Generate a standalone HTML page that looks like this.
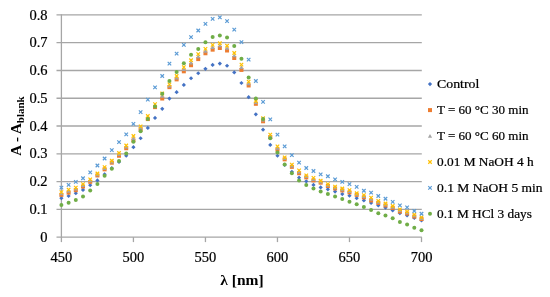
<!DOCTYPE html>
<html><head><meta charset="utf-8"><style>
html,body{margin:0;padding:0;background:#fff;}
body{width:550px;height:297px;overflow:hidden;}
svg{display:block;}
text{filter:grayscale(1);stroke:#000;stroke-width:0.22px;}
svg{font-family:"Liberation Serif",serif;font-size:14.5px;}
</style></head><body>
<svg width="550" height="297" viewBox="0 0 550 297">
<rect width="550" height="297" fill="#fff"/>
<line x1="56.5" y1="237.10" x2="421.80" y2="237.10" stroke="#a6a6a6" stroke-width="1.3"/>
<line x1="56.5" y1="209.33" x2="421.80" y2="209.33" stroke="#a6a6a6" stroke-width="1.3"/>
<line x1="56.5" y1="181.56" x2="421.80" y2="181.56" stroke="#a6a6a6" stroke-width="1.3"/>
<line x1="56.5" y1="153.79" x2="421.80" y2="153.79" stroke="#a6a6a6" stroke-width="1.3"/>
<line x1="56.5" y1="126.02" x2="421.80" y2="126.02" stroke="#a6a6a6" stroke-width="1.3"/>
<line x1="56.5" y1="98.26" x2="421.80" y2="98.26" stroke="#a6a6a6" stroke-width="1.3"/>
<line x1="56.5" y1="70.49" x2="421.80" y2="70.49" stroke="#a6a6a6" stroke-width="1.3"/>
<line x1="56.5" y1="42.72" x2="421.80" y2="42.72" stroke="#a6a6a6" stroke-width="1.3"/>
<line x1="56.5" y1="14.95" x2="421.80" y2="14.95" stroke="#a6a6a6" stroke-width="1.3"/>
<line x1="61.40" y1="14.35" x2="61.40" y2="237.70" stroke="#a6a6a6" stroke-width="1.3"/>
<line x1="61.40" y1="237.10" x2="61.40" y2="242.10" stroke="#a6a6a6" stroke-width="1.3"/>
<line x1="133.42" y1="237.10" x2="133.42" y2="242.10" stroke="#a6a6a6" stroke-width="1.3"/>
<line x1="205.44" y1="237.10" x2="205.44" y2="242.10" stroke="#a6a6a6" stroke-width="1.3"/>
<line x1="277.46" y1="237.10" x2="277.46" y2="242.10" stroke="#a6a6a6" stroke-width="1.3"/>
<line x1="349.48" y1="237.10" x2="349.48" y2="242.10" stroke="#a6a6a6" stroke-width="1.3"/>
<line x1="421.50" y1="237.10" x2="421.50" y2="242.10" stroke="#a6a6a6" stroke-width="1.3"/>
<path d="M61.40 196.12L63.50 198.22L61.40 200.32L59.30 198.22Z" fill="#4472c4"/>
<path d="M68.60 193.90L70.70 196.00L68.60 198.10L66.50 196.00Z" fill="#4472c4"/>
<path d="M75.80 191.13L77.90 193.23L75.80 195.33L73.70 193.23Z" fill="#4472c4"/>
<path d="M83.01 187.79L85.11 189.89L83.01 191.99L80.91 189.89Z" fill="#4472c4"/>
<path d="M90.21 183.07L92.31 185.17L90.21 187.27L88.11 185.17Z" fill="#4472c4"/>
<path d="M97.41 178.35L99.51 180.45L97.41 182.55L95.31 180.45Z" fill="#4472c4"/>
<path d="M104.61 172.24L106.71 174.34L104.61 176.44L102.51 174.34Z" fill="#4472c4"/>
<path d="M111.81 166.04L113.91 168.14L111.81 170.24L109.71 168.14Z" fill="#4472c4"/>
<path d="M119.02 159.84L121.12 161.94L119.02 164.04L116.92 161.94Z" fill="#4472c4"/>
<path d="M126.22 153.64L128.32 155.74L126.22 157.84L124.12 155.74Z" fill="#4472c4"/>
<path d="M133.42 145.03L135.52 147.13L133.42 149.23L131.32 147.13Z" fill="#4472c4"/>
<path d="M140.62 136.14L142.72 138.24L140.62 140.34L138.52 138.24Z" fill="#4472c4"/>
<path d="M147.82 125.87L149.92 127.97L147.82 130.07L145.72 127.97Z" fill="#4472c4"/>
<path d="M155.03 115.87L157.13 117.97L155.03 120.07L152.93 117.97Z" fill="#4472c4"/>
<path d="M162.23 106.71L164.33 108.81L162.23 110.91L160.13 108.81Z" fill="#4472c4"/>
<path d="M169.43 96.43L171.53 98.53L169.43 100.63L167.33 98.53Z" fill="#4472c4"/>
<path d="M176.63 90.05L178.73 92.15L176.63 94.25L174.53 92.15Z" fill="#4472c4"/>
<path d="M183.83 82.83L185.93 84.93L183.83 87.03L181.73 84.93Z" fill="#4472c4"/>
<path d="M191.04 76.16L193.14 78.26L191.04 80.36L188.94 78.26Z" fill="#4472c4"/>
<path d="M198.24 71.16L200.34 73.26L198.24 75.36L196.14 73.26Z" fill="#4472c4"/>
<path d="M205.44 66.72L207.54 68.82L205.44 70.92L203.34 68.82Z" fill="#4472c4"/>
<path d="M212.64 62.83L214.74 64.93L212.64 67.03L210.54 64.93Z" fill="#4472c4"/>
<path d="M219.84 61.45L221.94 63.55L219.84 65.65L217.74 63.55Z" fill="#4472c4"/>
<path d="M227.05 63.67L229.15 65.77L227.05 67.87L224.95 65.77Z" fill="#4472c4"/>
<path d="M234.25 70.33L236.35 72.43L234.25 74.53L232.15 72.43Z" fill="#4472c4"/>
<path d="M241.45 80.88L243.55 82.98L241.45 85.08L239.35 82.98Z" fill="#4472c4"/>
<path d="M248.65 95.05L250.75 97.15L248.65 99.25L246.55 97.15Z" fill="#4472c4"/>
<path d="M255.85 112.26L257.95 114.36L255.85 116.46L253.75 114.36Z" fill="#4472c4"/>
<path d="M263.06 127.53L265.16 129.63L263.06 131.73L260.96 129.63Z" fill="#4472c4"/>
<path d="M270.26 142.81L272.36 144.91L270.26 147.01L268.16 144.91Z" fill="#4472c4"/>
<path d="M277.46 153.64L279.56 155.74L277.46 157.84L275.36 155.74Z" fill="#4472c4"/>
<path d="M284.66 162.80L286.76 164.90L284.66 167.00L282.56 164.90Z" fill="#4472c4"/>
<path d="M291.86 169.74L293.96 171.84L291.86 173.94L289.76 171.84Z" fill="#4472c4"/>
<path d="M299.07 175.57L301.17 177.67L299.07 179.77L296.97 177.67Z" fill="#4472c4"/>
<path d="M306.27 179.18L308.37 181.28L306.27 183.38L304.17 181.28Z" fill="#4472c4"/>
<path d="M313.47 182.79L315.57 184.89L313.47 186.99L311.37 184.89Z" fill="#4472c4"/>
<path d="M320.67 185.29L322.77 187.39L320.67 189.49L318.57 187.39Z" fill="#4472c4"/>
<path d="M327.87 187.24L329.97 189.34L327.87 191.44L325.77 189.34Z" fill="#4472c4"/>
<path d="M335.08 189.46L337.18 191.56L335.08 193.66L332.98 191.56Z" fill="#4472c4"/>
<path d="M342.28 191.96L344.38 194.06L342.28 196.16L340.18 194.06Z" fill="#4472c4"/>
<path d="M349.48 193.62L351.58 195.72L349.48 197.82L347.38 195.72Z" fill="#4472c4"/>
<path d="M356.68 196.12L358.78 198.22L356.68 200.32L354.58 198.22Z" fill="#4472c4"/>
<path d="M363.88 198.35L365.98 200.45L363.88 202.55L361.78 200.45Z" fill="#4472c4"/>
<path d="M371.09 200.84L373.19 202.94L371.09 205.04L368.99 202.94Z" fill="#4472c4"/>
<path d="M378.29 203.34L380.39 205.44L378.29 207.54L376.19 205.44Z" fill="#4472c4"/>
<path d="M385.49 205.57L387.59 207.67L385.49 209.77L383.39 207.67Z" fill="#4472c4"/>
<path d="M392.69 208.34L394.79 210.44L392.69 212.54L390.59 210.44Z" fill="#4472c4"/>
<path d="M399.89 211.12L401.99 213.22L399.89 215.32L397.79 213.22Z" fill="#4472c4"/>
<path d="M407.10 213.34L409.20 215.44L407.10 217.54L405.00 215.44Z" fill="#4472c4"/>
<path d="M414.30 215.84L416.40 217.94L414.30 220.04L412.20 217.94Z" fill="#4472c4"/>
<path d="M421.50 218.34L423.60 220.44L421.50 222.54L419.40 220.44Z" fill="#4472c4"/>
<rect x="59.40" y="192.89" width="4.00" height="4.00" fill="#ed7d31"/>
<rect x="66.60" y="190.67" width="4.00" height="4.00" fill="#ed7d31"/>
<rect x="73.80" y="188.17" width="4.00" height="4.00" fill="#ed7d31"/>
<rect x="81.01" y="184.56" width="4.00" height="4.00" fill="#ed7d31"/>
<rect x="88.21" y="179.84" width="4.00" height="4.00" fill="#ed7d31"/>
<rect x="95.41" y="173.45" width="4.00" height="4.00" fill="#ed7d31"/>
<rect x="102.61" y="167.34" width="4.00" height="4.00" fill="#ed7d31"/>
<rect x="109.81" y="160.68" width="4.00" height="4.00" fill="#ed7d31"/>
<rect x="117.02" y="153.74" width="4.00" height="4.00" fill="#ed7d31"/>
<rect x="124.22" y="146.24" width="4.00" height="4.00" fill="#ed7d31"/>
<rect x="131.42" y="138.46" width="4.00" height="4.00" fill="#ed7d31"/>
<rect x="138.62" y="127.36" width="4.00" height="4.00" fill="#ed7d31"/>
<rect x="145.82" y="117.08" width="4.00" height="4.00" fill="#ed7d31"/>
<rect x="153.03" y="105.14" width="4.00" height="4.00" fill="#ed7d31"/>
<rect x="160.23" y="96.53" width="4.00" height="4.00" fill="#ed7d31"/>
<rect x="167.43" y="85.15" width="4.00" height="4.00" fill="#ed7d31"/>
<rect x="174.63" y="77.37" width="4.00" height="4.00" fill="#ed7d31"/>
<rect x="181.83" y="69.32" width="4.00" height="4.00" fill="#ed7d31"/>
<rect x="189.04" y="63.21" width="4.00" height="4.00" fill="#ed7d31"/>
<rect x="196.24" y="57.10" width="4.00" height="4.00" fill="#ed7d31"/>
<rect x="203.44" y="51.27" width="4.00" height="4.00" fill="#ed7d31"/>
<rect x="210.64" y="47.66" width="4.00" height="4.00" fill="#ed7d31"/>
<rect x="217.84" y="45.99" width="4.00" height="4.00" fill="#ed7d31"/>
<rect x="225.05" y="48.49" width="4.00" height="4.00" fill="#ed7d31"/>
<rect x="232.25" y="55.99" width="4.00" height="4.00" fill="#ed7d31"/>
<rect x="239.45" y="67.93" width="4.00" height="4.00" fill="#ed7d31"/>
<rect x="246.65" y="83.48" width="4.00" height="4.00" fill="#ed7d31"/>
<rect x="253.85" y="101.81" width="4.00" height="4.00" fill="#ed7d31"/>
<rect x="261.06" y="119.30" width="4.00" height="4.00" fill="#ed7d31"/>
<rect x="268.26" y="135.13" width="4.00" height="4.00" fill="#ed7d31"/>
<rect x="275.46" y="147.63" width="4.00" height="4.00" fill="#ed7d31"/>
<rect x="282.66" y="157.35" width="4.00" height="4.00" fill="#ed7d31"/>
<rect x="289.86" y="164.85" width="4.00" height="4.00" fill="#ed7d31"/>
<rect x="297.07" y="171.23" width="4.00" height="4.00" fill="#ed7d31"/>
<rect x="304.27" y="175.40" width="4.00" height="4.00" fill="#ed7d31"/>
<rect x="311.47" y="178.45" width="4.00" height="4.00" fill="#ed7d31"/>
<rect x="318.67" y="180.67" width="4.00" height="4.00" fill="#ed7d31"/>
<rect x="325.87" y="184.01" width="4.00" height="4.00" fill="#ed7d31"/>
<rect x="333.08" y="186.50" width="4.00" height="4.00" fill="#ed7d31"/>
<rect x="340.28" y="188.45" width="4.00" height="4.00" fill="#ed7d31"/>
<rect x="347.48" y="190.39" width="4.00" height="4.00" fill="#ed7d31"/>
<rect x="354.68" y="192.89" width="4.00" height="4.00" fill="#ed7d31"/>
<rect x="361.88" y="195.39" width="4.00" height="4.00" fill="#ed7d31"/>
<rect x="369.09" y="198.45" width="4.00" height="4.00" fill="#ed7d31"/>
<rect x="376.29" y="200.94" width="4.00" height="4.00" fill="#ed7d31"/>
<rect x="383.49" y="203.44" width="4.00" height="4.00" fill="#ed7d31"/>
<rect x="390.69" y="205.94" width="4.00" height="4.00" fill="#ed7d31"/>
<rect x="397.89" y="209.55" width="4.00" height="4.00" fill="#ed7d31"/>
<rect x="405.10" y="211.50" width="4.00" height="4.00" fill="#ed7d31"/>
<rect x="412.30" y="214.55" width="4.00" height="4.00" fill="#ed7d31"/>
<rect x="419.50" y="217.05" width="4.00" height="4.00" fill="#ed7d31"/>
<path d="M61.40 191.40L63.50 195.18L59.30 195.18Z" fill="#a5a5a5"/>
<path d="M68.60 189.04L70.70 192.82L66.50 192.82Z" fill="#a5a5a5"/>
<path d="M75.80 186.82L77.90 190.60L73.70 190.60Z" fill="#a5a5a5"/>
<path d="M83.01 183.21L85.11 186.99L80.91 186.99Z" fill="#a5a5a5"/>
<path d="M90.21 178.49L92.31 182.27L88.11 182.27Z" fill="#a5a5a5"/>
<path d="M97.41 172.38L99.51 176.16L95.31 176.16Z" fill="#a5a5a5"/>
<path d="M104.61 166.13L106.71 169.91L102.51 169.91Z" fill="#a5a5a5"/>
<path d="M111.81 159.61L113.91 163.39L109.71 163.39Z" fill="#a5a5a5"/>
<path d="M119.02 152.25L121.12 156.03L116.92 156.03Z" fill="#a5a5a5"/>
<path d="M126.22 144.75L128.32 148.53L124.12 148.53Z" fill="#a5a5a5"/>
<path d="M133.42 136.14L135.52 139.92L131.32 139.92Z" fill="#a5a5a5"/>
<path d="M140.62 125.73L142.72 129.51L138.52 129.51Z" fill="#a5a5a5"/>
<path d="M147.82 115.46L149.92 119.24L145.72 119.24Z" fill="#a5a5a5"/>
<path d="M155.03 103.51L157.13 107.29L152.93 107.29Z" fill="#a5a5a5"/>
<path d="M162.23 93.93L164.33 97.71L160.13 97.71Z" fill="#a5a5a5"/>
<path d="M169.43 83.66L171.53 87.44L167.33 87.44Z" fill="#a5a5a5"/>
<path d="M176.63 75.61L178.73 79.39L174.53 79.39Z" fill="#a5a5a5"/>
<path d="M183.83 67.14L185.93 70.92L181.73 70.92Z" fill="#a5a5a5"/>
<path d="M191.04 60.61L193.14 64.39L188.94 64.39Z" fill="#a5a5a5"/>
<path d="M198.24 54.50L200.34 58.28L196.14 58.28Z" fill="#a5a5a5"/>
<path d="M205.44 48.95L207.54 52.73L203.34 52.73Z" fill="#a5a5a5"/>
<path d="M212.64 45.20L214.74 48.98L210.54 48.98Z" fill="#a5a5a5"/>
<path d="M219.84 43.53L221.94 47.31L217.74 47.31Z" fill="#a5a5a5"/>
<path d="M227.05 46.03L229.15 49.81L224.95 49.81Z" fill="#a5a5a5"/>
<path d="M234.25 53.39L236.35 57.17L232.15 57.17Z" fill="#a5a5a5"/>
<path d="M241.45 65.19L243.55 68.97L239.35 68.97Z" fill="#a5a5a5"/>
<path d="M248.65 81.44L250.75 85.22L246.55 85.22Z" fill="#a5a5a5"/>
<path d="M255.85 100.32L257.95 104.10L253.75 104.10Z" fill="#a5a5a5"/>
<path d="M263.06 117.68L265.16 121.46L260.96 121.46Z" fill="#a5a5a5"/>
<path d="M270.26 133.78L272.36 137.56L268.16 137.56Z" fill="#a5a5a5"/>
<path d="M277.46 145.86L279.56 149.64L275.36 149.64Z" fill="#a5a5a5"/>
<path d="M284.66 156.28L286.76 160.06L282.56 160.06Z" fill="#a5a5a5"/>
<path d="M291.86 163.63L293.96 167.41L289.76 167.41Z" fill="#a5a5a5"/>
<path d="M299.07 169.74L301.17 173.52L296.97 173.52Z" fill="#a5a5a5"/>
<path d="M306.27 174.33L308.37 178.11L304.17 178.11Z" fill="#a5a5a5"/>
<path d="M313.47 177.10L315.57 180.88L311.37 180.88Z" fill="#a5a5a5"/>
<path d="M320.67 179.60L322.77 183.38L318.57 183.38Z" fill="#a5a5a5"/>
<path d="M327.87 182.93L329.97 186.71L325.77 186.71Z" fill="#a5a5a5"/>
<path d="M335.08 185.43L337.18 189.21L332.98 189.21Z" fill="#a5a5a5"/>
<path d="M342.28 187.38L344.38 191.16L340.18 191.16Z" fill="#a5a5a5"/>
<path d="M349.48 189.18L351.58 192.96L347.38 192.96Z" fill="#a5a5a5"/>
<path d="M356.68 191.96L358.78 195.74L354.58 195.74Z" fill="#a5a5a5"/>
<path d="M363.88 194.18L365.98 197.96L361.78 197.96Z" fill="#a5a5a5"/>
<path d="M371.09 196.96L373.19 200.74L368.99 200.74Z" fill="#a5a5a5"/>
<path d="M378.29 199.87L380.39 203.65L376.19 203.65Z" fill="#a5a5a5"/>
<path d="M385.49 202.37L387.59 206.15L383.39 206.15Z" fill="#a5a5a5"/>
<path d="M392.69 204.87L394.79 208.65L390.59 208.65Z" fill="#a5a5a5"/>
<path d="M399.89 208.34L401.99 212.12L397.79 212.12Z" fill="#a5a5a5"/>
<path d="M407.10 210.42L409.20 214.20L405.00 214.20Z" fill="#a5a5a5"/>
<path d="M414.30 213.48L416.40 217.26L412.20 217.26Z" fill="#a5a5a5"/>
<path d="M421.50 216.12L423.60 219.90L419.40 219.90Z" fill="#a5a5a5"/>
<path d="M59.65 190.36L63.15 193.86M63.15 190.36L59.65 193.86" stroke="#ffc000" stroke-width="1.2" fill="none"/>
<path d="M66.85 187.87L70.35 191.37M70.35 187.87L66.85 191.37" stroke="#ffc000" stroke-width="1.2" fill="none"/>
<path d="M74.05 185.92L77.55 189.42M77.55 185.92L74.05 189.42" stroke="#ffc000" stroke-width="1.2" fill="none"/>
<path d="M81.26 182.31L84.76 185.81M84.76 182.31L81.26 185.81" stroke="#ffc000" stroke-width="1.2" fill="none"/>
<path d="M88.46 177.59L91.96 181.09M91.96 177.59L88.46 181.09" stroke="#ffc000" stroke-width="1.2" fill="none"/>
<path d="M95.66 171.76L99.16 175.26M99.16 171.76L95.66 175.26" stroke="#ffc000" stroke-width="1.2" fill="none"/>
<path d="M102.86 165.37L106.36 168.87M106.36 165.37L102.86 168.87" stroke="#ffc000" stroke-width="1.2" fill="none"/>
<path d="M110.06 158.99L113.56 162.49M113.56 158.99L110.06 162.49" stroke="#ffc000" stroke-width="1.2" fill="none"/>
<path d="M117.27 151.21L120.77 154.71M120.77 151.21L117.27 154.71" stroke="#ffc000" stroke-width="1.2" fill="none"/>
<path d="M124.47 143.71L127.97 147.21M127.97 143.71L124.47 147.21" stroke="#ffc000" stroke-width="1.2" fill="none"/>
<path d="M131.67 134.27L135.17 137.77M135.17 134.27L131.67 137.77" stroke="#ffc000" stroke-width="1.2" fill="none"/>
<path d="M138.87 124.55L142.37 128.05M142.37 124.55L138.87 128.05" stroke="#ffc000" stroke-width="1.2" fill="none"/>
<path d="M146.07 114.28L149.57 117.78M149.57 114.28L146.07 117.78" stroke="#ffc000" stroke-width="1.2" fill="none"/>
<path d="M153.28 102.34L156.78 105.84M156.78 102.34L153.28 105.84" stroke="#ffc000" stroke-width="1.2" fill="none"/>
<path d="M160.48 91.79L163.98 95.29M163.98 91.79L160.48 95.29" stroke="#ffc000" stroke-width="1.2" fill="none"/>
<path d="M167.68 82.62L171.18 86.12M171.18 82.62L167.68 86.12" stroke="#ffc000" stroke-width="1.2" fill="none"/>
<path d="M174.88 74.29L178.38 77.79M178.38 74.29L174.88 77.79" stroke="#ffc000" stroke-width="1.2" fill="none"/>
<path d="M182.08 65.41L185.58 68.91M185.58 65.41L182.08 68.91" stroke="#ffc000" stroke-width="1.2" fill="none"/>
<path d="M189.29 58.46L192.79 61.96M192.79 58.46L189.29 61.96" stroke="#ffc000" stroke-width="1.2" fill="none"/>
<path d="M196.49 52.35L199.99 55.85M199.99 52.35L196.49 55.85" stroke="#ffc000" stroke-width="1.2" fill="none"/>
<path d="M203.69 47.08L207.19 50.58M207.19 47.08L203.69 50.58" stroke="#ffc000" stroke-width="1.2" fill="none"/>
<path d="M210.89 43.19L214.39 46.69M214.39 43.19L210.89 46.69" stroke="#ffc000" stroke-width="1.2" fill="none"/>
<path d="M218.09 41.52L221.59 45.02M221.59 41.52L218.09 45.02" stroke="#ffc000" stroke-width="1.2" fill="none"/>
<path d="M225.30 44.02L228.80 47.52M228.80 44.02L225.30 47.52" stroke="#ffc000" stroke-width="1.2" fill="none"/>
<path d="M232.50 51.24L236.00 54.74M236.00 51.24L232.50 54.74" stroke="#ffc000" stroke-width="1.2" fill="none"/>
<path d="M239.70 62.91L243.20 66.41M243.20 62.91L239.70 66.41" stroke="#ffc000" stroke-width="1.2" fill="none"/>
<path d="M246.90 79.84L250.40 83.34M250.40 79.84L246.90 83.34" stroke="#ffc000" stroke-width="1.2" fill="none"/>
<path d="M254.10 99.28L257.60 102.78M257.60 99.28L254.10 102.78" stroke="#ffc000" stroke-width="1.2" fill="none"/>
<path d="M261.31 116.50L264.81 120.00M264.81 116.50L261.31 120.00" stroke="#ffc000" stroke-width="1.2" fill="none"/>
<path d="M268.51 132.88L272.01 136.38M272.01 132.88L268.51 136.38" stroke="#ffc000" stroke-width="1.2" fill="none"/>
<path d="M275.71 144.55L279.21 148.05M279.21 144.55L275.71 148.05" stroke="#ffc000" stroke-width="1.2" fill="none"/>
<path d="M282.91 155.65L286.41 159.15M286.41 155.65L282.91 159.15" stroke="#ffc000" stroke-width="1.2" fill="none"/>
<path d="M290.11 162.87L293.61 166.37M293.61 162.87L290.11 166.37" stroke="#ffc000" stroke-width="1.2" fill="none"/>
<path d="M297.32 168.70L300.82 172.20M300.82 168.70L297.32 172.20" stroke="#ffc000" stroke-width="1.2" fill="none"/>
<path d="M304.52 173.70L308.02 177.20M308.02 173.70L304.52 177.20" stroke="#ffc000" stroke-width="1.2" fill="none"/>
<path d="M311.72 176.20L315.22 179.70M315.22 176.20L311.72 179.70" stroke="#ffc000" stroke-width="1.2" fill="none"/>
<path d="M318.92 178.98L322.42 182.48M322.42 178.98L318.92 182.48" stroke="#ffc000" stroke-width="1.2" fill="none"/>
<path d="M326.12 182.31L329.62 185.81M329.62 182.31L326.12 185.81" stroke="#ffc000" stroke-width="1.2" fill="none"/>
<path d="M333.33 184.81L336.83 188.31M336.83 184.81L333.33 188.31" stroke="#ffc000" stroke-width="1.2" fill="none"/>
<path d="M340.53 186.75L344.03 190.25M344.03 186.75L340.53 190.25" stroke="#ffc000" stroke-width="1.2" fill="none"/>
<path d="M347.73 188.42L351.23 191.92M351.23 188.42L347.73 191.92" stroke="#ffc000" stroke-width="1.2" fill="none"/>
<path d="M354.93 191.48L358.43 194.98M358.43 191.48L354.93 194.98" stroke="#ffc000" stroke-width="1.2" fill="none"/>
<path d="M362.13 193.42L365.63 196.92M365.63 193.42L362.13 196.92" stroke="#ffc000" stroke-width="1.2" fill="none"/>
<path d="M369.34 195.92L372.84 199.42M372.84 195.92L369.34 199.42" stroke="#ffc000" stroke-width="1.2" fill="none"/>
<path d="M376.54 199.25L380.04 202.75M380.04 199.25L376.54 202.75" stroke="#ffc000" stroke-width="1.2" fill="none"/>
<path d="M383.74 201.75L387.24 205.25M387.24 201.75L383.74 205.25" stroke="#ffc000" stroke-width="1.2" fill="none"/>
<path d="M390.94 204.25L394.44 207.75M394.44 204.25L390.94 207.75" stroke="#ffc000" stroke-width="1.2" fill="none"/>
<path d="M398.14 207.58L401.64 211.08M401.64 207.58L398.14 211.08" stroke="#ffc000" stroke-width="1.2" fill="none"/>
<path d="M405.35 209.80L408.85 213.30M408.85 209.80L405.35 213.30" stroke="#ffc000" stroke-width="1.2" fill="none"/>
<path d="M412.55 212.86L416.05 216.36M416.05 212.86L412.55 216.36" stroke="#ffc000" stroke-width="1.2" fill="none"/>
<path d="M419.75 215.63L423.25 219.13M423.25 215.63L419.75 219.13" stroke="#ffc000" stroke-width="1.2" fill="none"/>
<path d="M59.65 185.92L63.15 189.42M63.15 185.92L59.65 189.42" stroke="#5b9bd5" stroke-width="1.2" fill="none"/>
<path d="M66.85 183.14L70.35 186.64M70.35 183.14L66.85 186.64" stroke="#5b9bd5" stroke-width="1.2" fill="none"/>
<path d="M74.05 180.09L77.55 183.59M77.55 180.09L74.05 183.59" stroke="#5b9bd5" stroke-width="1.2" fill="none"/>
<path d="M81.26 176.48L84.76 179.98M84.76 176.48L81.26 179.98" stroke="#5b9bd5" stroke-width="1.2" fill="none"/>
<path d="M88.46 170.65L91.96 174.15M91.96 170.65L88.46 174.15" stroke="#5b9bd5" stroke-width="1.2" fill="none"/>
<path d="M95.66 163.71L99.16 167.21M99.16 163.71L95.66 167.21" stroke="#5b9bd5" stroke-width="1.2" fill="none"/>
<path d="M102.86 156.76L106.36 160.26M106.36 156.76L102.86 160.26" stroke="#5b9bd5" stroke-width="1.2" fill="none"/>
<path d="M110.06 148.43L113.56 151.93M113.56 148.43L110.06 151.93" stroke="#5b9bd5" stroke-width="1.2" fill="none"/>
<path d="M117.27 140.38L120.77 143.88M120.77 140.38L117.27 143.88" stroke="#5b9bd5" stroke-width="1.2" fill="none"/>
<path d="M124.47 132.61L127.97 136.11M127.97 132.61L124.47 136.11" stroke="#5b9bd5" stroke-width="1.2" fill="none"/>
<path d="M131.67 122.05L135.17 125.55M135.17 122.05L131.67 125.55" stroke="#5b9bd5" stroke-width="1.2" fill="none"/>
<path d="M138.87 110.39L142.37 113.89M142.37 110.39L138.87 113.89" stroke="#5b9bd5" stroke-width="1.2" fill="none"/>
<path d="M146.07 97.89L149.57 101.39M149.57 97.89L146.07 101.39" stroke="#5b9bd5" stroke-width="1.2" fill="none"/>
<path d="M153.28 85.68L156.78 89.18M156.78 85.68L153.28 89.18" stroke="#5b9bd5" stroke-width="1.2" fill="none"/>
<path d="M160.48 74.29L163.98 77.79M163.98 74.29L160.48 77.79" stroke="#5b9bd5" stroke-width="1.2" fill="none"/>
<path d="M167.68 61.80L171.18 65.30M171.18 61.80L167.68 65.30" stroke="#5b9bd5" stroke-width="1.2" fill="none"/>
<path d="M174.88 51.80L178.38 55.30M178.38 51.80L174.88 55.30" stroke="#5b9bd5" stroke-width="1.2" fill="none"/>
<path d="M182.08 43.19L185.58 46.69M185.58 43.19L182.08 46.69" stroke="#5b9bd5" stroke-width="1.2" fill="none"/>
<path d="M189.29 35.41L192.79 38.91M192.79 35.41L189.29 38.91" stroke="#5b9bd5" stroke-width="1.2" fill="none"/>
<path d="M196.49 28.75L199.99 32.25M199.99 28.75L196.49 32.25" stroke="#5b9bd5" stroke-width="1.2" fill="none"/>
<path d="M203.69 22.09L207.19 25.59M207.19 22.09L203.69 25.59" stroke="#5b9bd5" stroke-width="1.2" fill="none"/>
<path d="M210.89 17.09L214.39 20.59M214.39 17.09L210.89 20.59" stroke="#5b9bd5" stroke-width="1.2" fill="none"/>
<path d="M218.09 15.70L221.59 19.20M221.59 15.70L218.09 19.20" stroke="#5b9bd5" stroke-width="1.2" fill="none"/>
<path d="M225.30 19.31L228.80 22.81M228.80 19.31L225.30 22.81" stroke="#5b9bd5" stroke-width="1.2" fill="none"/>
<path d="M232.50 27.92L236.00 31.42M236.00 27.92L232.50 31.42" stroke="#5b9bd5" stroke-width="1.2" fill="none"/>
<path d="M239.70 40.41L243.20 43.91M243.20 40.41L239.70 43.91" stroke="#5b9bd5" stroke-width="1.2" fill="none"/>
<path d="M246.90 57.91L250.40 61.41M250.40 57.91L246.90 61.41" stroke="#5b9bd5" stroke-width="1.2" fill="none"/>
<path d="M254.10 79.29L257.60 82.79M257.60 79.29L254.10 82.79" stroke="#5b9bd5" stroke-width="1.2" fill="none"/>
<path d="M261.31 100.12L264.81 103.62M264.81 100.12L261.31 103.62" stroke="#5b9bd5" stroke-width="1.2" fill="none"/>
<path d="M268.51 117.61L272.01 121.11M272.01 117.61L268.51 121.11" stroke="#5b9bd5" stroke-width="1.2" fill="none"/>
<path d="M275.71 132.88L279.21 136.38M279.21 132.88L275.71 136.38" stroke="#5b9bd5" stroke-width="1.2" fill="none"/>
<path d="M282.91 144.55L286.41 148.05M286.41 144.55L282.91 148.05" stroke="#5b9bd5" stroke-width="1.2" fill="none"/>
<path d="M290.11 153.43L293.61 156.93M293.61 153.43L290.11 156.93" stroke="#5b9bd5" stroke-width="1.2" fill="none"/>
<path d="M297.32 160.93L300.82 164.43M300.82 160.93L297.32 164.43" stroke="#5b9bd5" stroke-width="1.2" fill="none"/>
<path d="M304.52 166.21L308.02 169.71M308.02 166.21L304.52 169.71" stroke="#5b9bd5" stroke-width="1.2" fill="none"/>
<path d="M311.72 169.26L315.22 172.76M315.22 169.26L311.72 172.76" stroke="#5b9bd5" stroke-width="1.2" fill="none"/>
<path d="M318.92 172.59L322.42 176.09M322.42 172.59L318.92 176.09" stroke="#5b9bd5" stroke-width="1.2" fill="none"/>
<path d="M326.12 174.54L329.62 178.04M329.62 174.54L326.12 178.04" stroke="#5b9bd5" stroke-width="1.2" fill="none"/>
<path d="M333.33 177.59L336.83 181.09M336.83 177.59L333.33 181.09" stroke="#5b9bd5" stroke-width="1.2" fill="none"/>
<path d="M340.53 180.09L344.03 183.59M344.03 180.09L340.53 183.59" stroke="#5b9bd5" stroke-width="1.2" fill="none"/>
<path d="M347.73 182.31L351.23 185.81M351.23 182.31L347.73 185.81" stroke="#5b9bd5" stroke-width="1.2" fill="none"/>
<path d="M354.93 185.09L358.43 188.59M358.43 185.09L354.93 188.59" stroke="#5b9bd5" stroke-width="1.2" fill="none"/>
<path d="M362.13 188.98L365.63 192.48M365.63 188.98L362.13 192.48" stroke="#5b9bd5" stroke-width="1.2" fill="none"/>
<path d="M369.34 190.92L372.84 194.42M372.84 190.92L369.34 194.42" stroke="#5b9bd5" stroke-width="1.2" fill="none"/>
<path d="M376.54 194.25L380.04 197.75M380.04 194.25L376.54 197.75" stroke="#5b9bd5" stroke-width="1.2" fill="none"/>
<path d="M383.74 197.03L387.24 200.53M387.24 197.03L383.74 200.53" stroke="#5b9bd5" stroke-width="1.2" fill="none"/>
<path d="M390.94 200.08L394.44 203.58M394.44 200.08L390.94 203.58" stroke="#5b9bd5" stroke-width="1.2" fill="none"/>
<path d="M398.14 203.69L401.64 207.19M401.64 203.69L398.14 207.19" stroke="#5b9bd5" stroke-width="1.2" fill="none"/>
<path d="M405.35 205.64L408.85 209.14M408.85 205.64L405.35 209.14" stroke="#5b9bd5" stroke-width="1.2" fill="none"/>
<path d="M412.55 209.25L416.05 212.75M416.05 209.25L412.55 212.75" stroke="#5b9bd5" stroke-width="1.2" fill="none"/>
<path d="M419.75 212.02L423.25 215.52M423.25 212.02L419.75 215.52" stroke="#5b9bd5" stroke-width="1.2" fill="none"/>
<circle cx="61.40" cy="204.89" r="2.0" fill="#70ad47"/>
<circle cx="68.60" cy="202.67" r="2.0" fill="#70ad47"/>
<circle cx="75.80" cy="199.89" r="2.0" fill="#70ad47"/>
<circle cx="83.01" cy="196.56" r="2.0" fill="#70ad47"/>
<circle cx="90.21" cy="190.45" r="2.0" fill="#70ad47"/>
<circle cx="97.41" cy="184.06" r="2.0" fill="#70ad47"/>
<circle cx="104.61" cy="175.73" r="2.0" fill="#70ad47"/>
<circle cx="111.81" cy="168.79" r="2.0" fill="#70ad47"/>
<circle cx="119.02" cy="161.01" r="2.0" fill="#70ad47"/>
<circle cx="126.22" cy="153.52" r="2.0" fill="#70ad47"/>
<circle cx="133.42" cy="141.85" r="2.0" fill="#70ad47"/>
<circle cx="140.62" cy="131.30" r="2.0" fill="#70ad47"/>
<circle cx="147.82" cy="119.08" r="2.0" fill="#70ad47"/>
<circle cx="155.03" cy="106.59" r="2.0" fill="#70ad47"/>
<circle cx="162.23" cy="93.81" r="2.0" fill="#70ad47"/>
<circle cx="169.43" cy="81.04" r="2.0" fill="#70ad47"/>
<circle cx="176.63" cy="71.88" r="2.0" fill="#70ad47"/>
<circle cx="183.83" cy="63.27" r="2.0" fill="#70ad47"/>
<circle cx="191.04" cy="54.66" r="2.0" fill="#70ad47"/>
<circle cx="198.24" cy="49.11" r="2.0" fill="#70ad47"/>
<circle cx="205.44" cy="42.16" r="2.0" fill="#70ad47"/>
<circle cx="212.64" cy="36.89" r="2.0" fill="#70ad47"/>
<circle cx="219.84" cy="35.50" r="2.0" fill="#70ad47"/>
<circle cx="227.05" cy="37.44" r="2.0" fill="#70ad47"/>
<circle cx="234.25" cy="46.05" r="2.0" fill="#70ad47"/>
<circle cx="241.45" cy="58.82" r="2.0" fill="#70ad47"/>
<circle cx="248.65" cy="77.43" r="2.0" fill="#70ad47"/>
<circle cx="255.85" cy="98.53" r="2.0" fill="#70ad47"/>
<circle cx="263.06" cy="119.08" r="2.0" fill="#70ad47"/>
<circle cx="270.26" cy="138.24" r="2.0" fill="#70ad47"/>
<circle cx="277.46" cy="152.41" r="2.0" fill="#70ad47"/>
<circle cx="284.66" cy="164.62" r="2.0" fill="#70ad47"/>
<circle cx="291.86" cy="173.23" r="2.0" fill="#70ad47"/>
<circle cx="299.07" cy="180.45" r="2.0" fill="#70ad47"/>
<circle cx="306.27" cy="184.89" r="2.0" fill="#70ad47"/>
<circle cx="313.47" cy="188.50" r="2.0" fill="#70ad47"/>
<circle cx="320.67" cy="191.56" r="2.0" fill="#70ad47"/>
<circle cx="327.87" cy="194.06" r="2.0" fill="#70ad47"/>
<circle cx="335.08" cy="196.56" r="2.0" fill="#70ad47"/>
<circle cx="342.28" cy="199.06" r="2.0" fill="#70ad47"/>
<circle cx="349.48" cy="201.83" r="2.0" fill="#70ad47"/>
<circle cx="356.68" cy="204.33" r="2.0" fill="#70ad47"/>
<circle cx="363.88" cy="207.11" r="2.0" fill="#70ad47"/>
<circle cx="371.09" cy="209.89" r="2.0" fill="#70ad47"/>
<circle cx="378.29" cy="213.22" r="2.0" fill="#70ad47"/>
<circle cx="385.49" cy="215.44" r="2.0" fill="#70ad47"/>
<circle cx="392.69" cy="218.22" r="2.0" fill="#70ad47"/>
<circle cx="399.89" cy="222.10" r="2.0" fill="#70ad47"/>
<circle cx="407.10" cy="224.60" r="2.0" fill="#70ad47"/>
<circle cx="414.30" cy="227.66" r="2.0" fill="#70ad47"/>
<circle cx="421.50" cy="230.16" r="2.0" fill="#70ad47"/>
<path d="M430.00 82.00L432.10 84.10L430.00 86.20L427.90 84.10Z" fill="#4472c4"/>
<rect x="428.00" y="108.10" width="4.00" height="4.00" fill="#ed7d31"/>
<path d="M430.00 134.00L432.10 137.78L427.90 137.78Z" fill="#a5a5a5"/>
<path d="M428.25 160.25L431.75 163.75M431.75 160.25L428.25 163.75" stroke="#ffc000" stroke-width="1.2" fill="none"/>
<path d="M428.25 186.05L431.75 189.55M431.75 186.05L428.25 189.55" stroke="#5b9bd5" stroke-width="1.2" fill="none"/>
<circle cx="430.00" cy="213.70" r="2.0" fill="#70ad47"/>
<text x="47.6" y="241.80" text-anchor="end">0</text>
<text x="47.6" y="214.03" text-anchor="end">0.1</text>
<text x="47.6" y="186.26" text-anchor="end">0.2</text>
<text x="47.6" y="158.49" text-anchor="end">0.3</text>
<text x="47.6" y="130.72" text-anchor="end">0.4</text>
<text x="47.6" y="102.96" text-anchor="end">0.5</text>
<text x="47.6" y="75.19" text-anchor="end">0.6</text>
<text x="47.6" y="47.42" text-anchor="end">0.7</text>
<text x="47.6" y="19.65" text-anchor="end">0.8</text>
<text x="61.40" y="262.1" text-anchor="middle">450</text>
<text x="133.42" y="262.1" text-anchor="middle">500</text>
<text x="205.44" y="262.1" text-anchor="middle">550</text>
<text x="277.46" y="262.1" text-anchor="middle">600</text>
<text x="349.48" y="262.1" text-anchor="middle">650</text>
<text x="421.50" y="262.1" text-anchor="middle">700</text>
<text x="437" y="88.20" font-size="13.0" textLength="42.3" lengthAdjust="spacingAndGlyphs">Control</text>
<text x="437" y="114.20" font-size="13.0" textLength="91.6" lengthAdjust="spacingAndGlyphs">T = 60 °C 30 min</text>
<text x="437" y="140.20" font-size="13.0" textLength="91.6" lengthAdjust="spacingAndGlyphs">T = 60 °C 60 min</text>
<text x="437" y="166.10" font-size="13.0" textLength="96.6" lengthAdjust="spacingAndGlyphs">0.01 M NaOH 4 h</text>
<text x="437" y="191.90" font-size="13.0" textLength="105.6" lengthAdjust="spacingAndGlyphs">0.1 M NaOH 5 min</text>
<text x="437" y="217.80" font-size="13.0" textLength="94.9" lengthAdjust="spacingAndGlyphs">0.1 M HCl 3 days</text>
<text x="242" y="284.8" text-anchor="middle" font-weight="bold" font-size="15" style="stroke:none" textLength="43.4" lengthAdjust="spacingAndGlyphs">λ [nm]</text>
<text transform="translate(20.8,126) rotate(-90)" text-anchor="middle" font-weight="bold" font-size="15" style="stroke:none">A - A<tspan font-size="11" dy="3.2">blank</tspan></text>
</svg>
</body></html>
